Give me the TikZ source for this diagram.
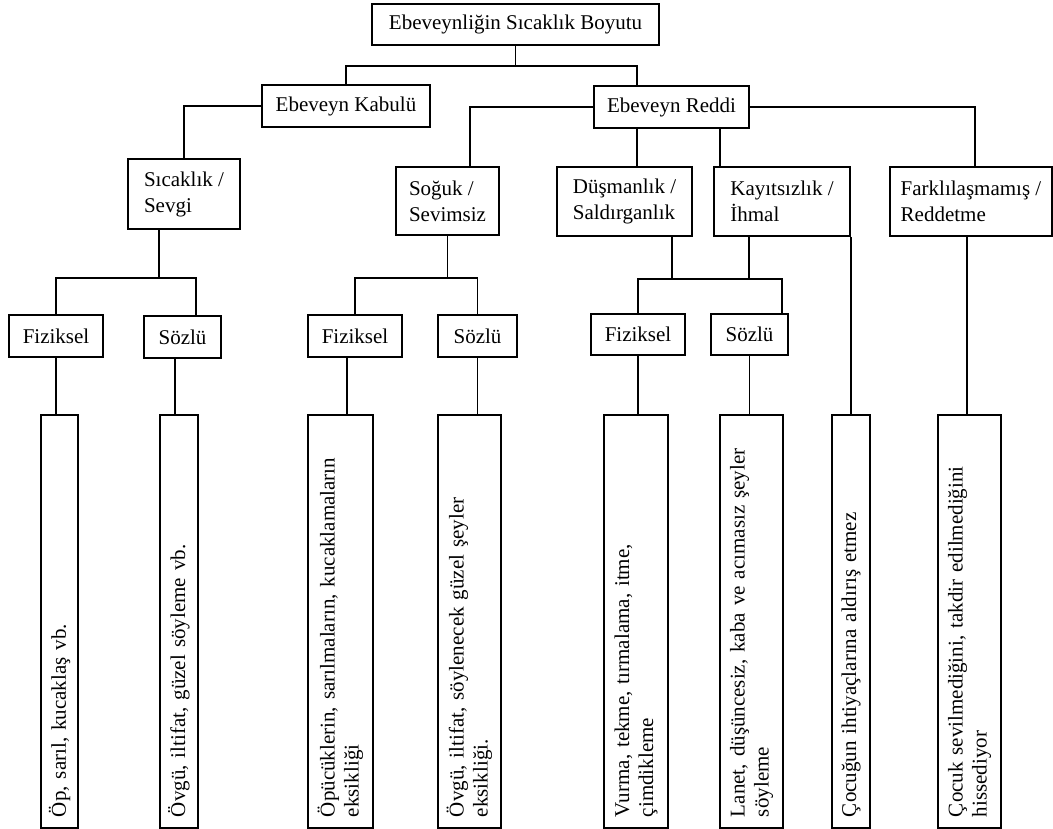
\documentclass[tikz,border=0pt]{standalone}
\usepackage{fontspec}
\setmainfont{Liberation Serif}
\usetikzlibrary{calc}

\tikzset{
    box/.style={draw, line width=1.9pt, rectangle, inner sep=0pt, align=left,
        font=\fontsize{21}{26}\selectfont},
    leaf/.style={draw, line width=1.9pt, rectangle, rotate=90, minimum height=#1pt,
        text width=391pt, inner xsep=11pt, inner ysep=0pt, align=left,
        font=\fontsize{21}{24}\selectfont},
    link/.style={line width=1.5pt},
}

\begin{document}
\begin{tikzpicture}[x=1pt,y=-1pt]
    \useasboundingbox (0,0) rectangle (1053,829);

    % upper levels
    \node [box, line width=2.3pt, minimum width=287pt, minimum height=41pt] (root) at (515.5,24.5) {Ebeveynliğin Sıcaklık Boyutu};
    \node [box, minimum width=168pt, minimum height=42pt] (kabul) at (346,106) {Ebeveyn Kabulü};
    \node [box, minimum width=155pt, minimum height=42pt] (red) at (671.5,107) {Ebeveyn Reddi};

    \node [box, minimum width=112pt, minimum height=70pt] (sicak) at (184,194) {Sıcaklık /\\Sevgi};
    \node [box, minimum width=103pt, minimum height=68pt] (soguk) at (447.5,201) {Soğuk /\\Sevimsiz};
    \node [box, minimum width=135pt, minimum height=69pt] (dusman) at (624.5,201.5) {Düşmanlık /\\Saldırganlık};
    \node [box, minimum width=136pt, minimum height=69pt] (kayit) at (782,201.5) {Kayıtsızlık /\\İhmal};
    \node [box, minimum width=162pt, minimum height=69pt] (fark) at (971,201.5) {Farklılaşmamış /\\Reddetme};

    \node [box, minimum width=94pt, minimum height=42pt] (fiz1) at (56,336) {Fiziksel};
    \node [box, minimum width=77pt, minimum height=42pt] (soz1) at (182.5,337) {Sözlü};
    \node [box, minimum width=94pt, minimum height=42pt] (fiz2) at (355,336) {Fiziksel};
    \node [box, minimum width=79pt, minimum height=42pt] (soz2) at (477.5,336) {Sözlü};
    \node [box, minimum width=94pt, minimum height=41pt] (fiz3) at (638,334.5) {Fiziksel};
    \node [box, minimum width=77pt, minimum height=41pt] (soz3) at (749.5,334.5) {Sözlü};

    % leaves
    \node [leaf=37] (L1) at (59.5,621.5) {Öp, sarıl, kucaklaş vb.};
    \node [leaf=38] (L2) at (179,621.5) {Övgü, iltifat, güzel söyleme vb.};
    \node [leaf=65] (L3) at (340.5,621.5) {Öpücüklerin, sarılmaların, kucaklamaların\\eksikliği};
    \node [leaf=63] (L4) at (469.5,621.5) {Övgü, iltifat, söylenecek güzel şeyler\\eksikliği.};
    \node [leaf=64] (L5) at (636,621.5) {Vurma, tekme, tırmalama, itme,\\çimdikleme};
    \node [leaf=63] (L6) at (751.5,621.5) {Lanet, düşüncesiz, kaba ve acımasız şeyler\\söyleme};
    \node [leaf=38] (L7) at (851,621.5) {Çocuğun ihtiyaçlarına aldırış etmez};
    \node [leaf=63] (L8) at (969.5,621.5) {Çocuk sevilmediğini, takdir edilmediğini\\hissediyor};

    % connectors
    \draw [link] (root.south) -- ++(0,20) coordinate (r1);
    \draw [link] (r1) -| (kabul.north);
    \draw [link] (r1) -| ([xshift=-34.5pt]red.north);

    \draw [link] (kabul.west) -| (sicak.north);
    \draw [link] (red.west) -| ([xshift=22.5pt]soguk.north);
    \draw [link] ([xshift=-34.5pt]red.south) -- ([xshift=-34.5pt]red.south |- dusman.north);
    \draw [link] ([xshift=48.5pt]red.south) -- ([xshift=48.5pt]red.south |- kayit.north);
    \draw [link] (red.east) -| ([xshift=4pt]fark.north);

    \draw [link] ([xshift=-25pt]sicak.south) -- ++(0,48) coordinate (s1);
    \draw [link] (s1) -| (fiz1.north);
    \draw [link] (s1) -| ([xshift=13.5pt]soz1.north);
    \draw [link] (soguk.south) -- ++(0,42) coordinate (s2);
    \draw [link] (s2) -| (fiz2.north);
    \draw [link] (s2) -| (soz2.north);
    \draw [link] ([xshift=47.5pt]dusman.south) -- ++(0,42) coordinate (s3);
    \draw [link] ([xshift=-33pt]kayit.south) -- ([xshift=-33pt]kayit.south |- s3);
    \draw [link] (s3) -| (fiz3.north);
    \draw [link] (s3) -| ([xshift=32.5pt]soz3.north);

    \draw [link] (fiz1.south) -- (fiz1.south |- L1.east);
    \draw [link] ([xshift=-7.5pt]soz1.south) -- ([xshift=-7.5pt]soz1.south |- L2.east);
    \draw [link] ([xshift=-8pt]fiz2.south) -- ([xshift=-8pt]fiz2.south |- L3.east);
    \draw [link] (soz2.south) -- (soz2.south |- L4.east);
    \draw [link] (fiz3.south) -- (fiz3.south |- L5.east);
    \draw [link] (soz3.south) -- (soz3.south |- L6.east);
    \draw [link] (kayit.south east) -- (kayit.south east |- L7.east);
    \draw [link] ([xshift=-4pt]fark.south) -- ([xshift=-4pt]fark.south |- L8.east);
\end{tikzpicture}
\end{document}
